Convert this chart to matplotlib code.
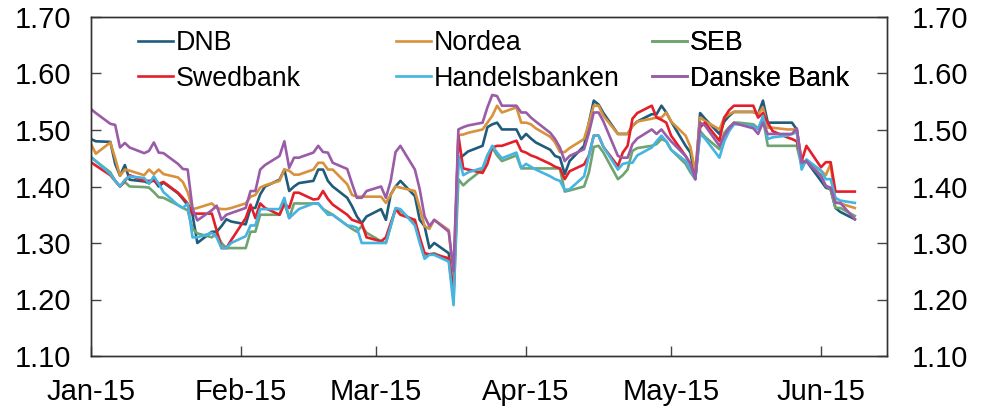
import numpy as np
import pandas as pd
import matplotlib
matplotlib.use('Agg')
import matplotlib.pyplot as plt
import matplotlib.dates as mdates
from matplotlib.ticker import FormatStrFormatter

plt.rcParams['font.family'] = ['Liberation Sans', 'DejaVu Sans']

# business days 1 Jan - 8 Jun 2015
dates = pd.bdate_range('2015-01-01', '2015-06-08')

dnb = (
    [1.484, 1.480, 1.479, 1.440, 1.419, 1.438, 1.412, 1.409, 1.406, 1.412, 1.400,
     1.407, 1.388, 1.378, 1.367, 1.350, 1.300, 1.320, 1.320, 1.330, 1.342, 1.338]
    + [1.333, 1.362, 1.362, 1.386, 1.400, 1.412, 1.430, 1.392, 1.400, 1.406,
       1.410, 1.430, 1.430, 1.410, 1.400, 1.380, 1.365, 1.347, 1.335, 1.347]
    + [1.360, 1.341, 1.386, 1.400, 1.410, 1.383, 1.341, 1.330, 1.291, 1.300, 1.282,
       1.220, 1.448, 1.455, 1.462, 1.472, 1.505, 1.510, 1.513, 1.501, 1.501, 1.484]
    + [1.493, 1.485, 1.478, 1.465, 1.454, 1.451, 1.422, 1.445, 1.472, 1.513, 1.552,
       1.545, 1.530, 1.493, 1.493, 1.493, 1.507, 1.515, 1.528, 1.528, 1.543, 1.531]
    + [1.515, 1.472, 1.460, 1.413, 1.530, 1.520, 1.493, 1.515, 1.525, 1.532, 1.532,
       1.532, 1.528, 1.552, 1.513, 1.513, 1.513, 1.513, 1.501, 1.440, 1.445]
    + [1.410, 1.398, 1.395, 1.362, 1.355, 1.342]
)

nordea = (
    [1.475, 1.458, 1.478, 1.450, 1.419, 1.430, 1.428, 1.420, 1.430, 1.422, 1.430,
     1.422, 1.416, 1.408, 1.390, 1.360, 1.362, 1.370, 1.362, 1.360, 1.360, 1.362]
    + [1.370, 1.382, 1.385, 1.398, 1.402, 1.410, 1.430, 1.428, 1.421, 1.421,
       1.430, 1.442, 1.442, 1.430, 1.430, 1.404, 1.385, 1.382, 1.382, 1.382]
    + [1.382, 1.371, 1.385, 1.400, 1.398, 1.392, 1.362, 1.330, 1.325, 1.341, 1.323,
       1.240, 1.491, 1.492, 1.495, 1.501, 1.513, 1.525, 1.543, 1.531, 1.540, 1.513]
    + [1.513, 1.510, 1.503, 1.488, 1.478, 1.461, 1.461, 1.468, 1.484, 1.513, 1.543,
       1.543, 1.525, 1.493, 1.493, 1.493, 1.507, 1.515, 1.520, 1.522, 1.522, 1.531]
    + [1.515, 1.490, 1.470, 1.425, 1.522, 1.516, 1.501, 1.522, 1.528, 1.532, 1.532,
       1.532, 1.528, 1.540, 1.504, 1.504, 1.501, 1.501, 1.501, 1.445, 1.445]
    + [1.428, 1.420, 1.440, 1.372, 1.370, 1.362]
)

seb = (
    [1.452, 1.445, 1.425, 1.410, 1.400, 1.408, 1.400, 1.399, 1.398, 1.390, 1.381,
     1.380, 1.367, 1.362, 1.358, 1.325, 1.317, 1.310, 1.317, 1.300, 1.291, 1.291]
    + [1.291, 1.320, 1.320, 1.350, 1.350, 1.350, 1.370, 1.344, 1.370, 1.370,
       1.370, 1.370, 1.360, 1.355, 1.350, 1.331, 1.325, 1.320, 1.330, 1.318]
    + [1.303, 1.300, 1.330, 1.360, 1.357, 1.336, 1.305, 1.276, 1.280, 1.282, 1.270,
       1.200, 1.413, 1.402, 1.410, 1.430, 1.455, 1.469, 1.455, 1.445, 1.455, 1.432]
    + [1.432, 1.432, 1.432, 1.432, 1.432, 1.432, 1.391, 1.393, 1.400, 1.425, 1.470,
       1.472, 1.460, 1.413, 1.420, 1.430, 1.463, 1.468, 1.472, 1.475, 1.484, 1.480]
    + [1.465, 1.440, 1.425, 1.413, 1.498, 1.488, 1.466, 1.495, 1.505, 1.513, 1.513,
       1.510, 1.503, 1.520, 1.472, 1.472, 1.472, 1.472, 1.472, 1.436, 1.445]
    + [1.420, 1.401, 1.395, 1.362, 1.362, 1.348]
)

swedbank = (
    [1.443, 1.437, 1.420, 1.410, 1.400, 1.410, 1.420, 1.410, 1.410, 1.410, 1.405,
     1.408, 1.389, 1.380, 1.370, 1.352, 1.352, 1.352, 1.322, 1.291, 1.291, 1.305]
    + [1.344, 1.368, 1.344, 1.370, 1.362, 1.350, 1.370, 1.362, 1.389, 1.389,
       1.377, 1.378, 1.392, 1.378, 1.368, 1.350, 1.341, 1.338, 1.335, 1.310]
    + [1.303, 1.310, 1.335, 1.360, 1.350, 1.341, 1.310, 1.282, 1.280, 1.280, 1.273,
       1.210, 1.490, 1.432, 1.430, 1.424, 1.440, 1.469, 1.472, 1.472, 1.481, 1.463]
    + [1.460, 1.455, 1.452, 1.440, 1.435, 1.432, 1.413, 1.427, 1.439, 1.455, 1.490,
       1.490, 1.470, 1.436, 1.460, 1.472, 1.520, 1.530, 1.543, 1.522, 1.518, 1.513]
    + [1.490, 1.454, 1.440, 1.416, 1.505, 1.513, 1.481, 1.522, 1.535, 1.543, 1.543,
       1.543, 1.522, 1.530, 1.513, 1.498, 1.487, 1.484, 1.480, 1.445, 1.472]
    + [1.434, 1.443, 1.443, 1.391, 1.391, 1.391]
)

handelsbanken = (
    [1.452, 1.445, 1.422, 1.410, 1.400, 1.412, 1.418, 1.415, 1.405, 1.418, 1.405,
     1.390, 1.367, 1.362, 1.370, 1.310, 1.310, 1.318, 1.310, 1.291, 1.291, 1.300]
    + [1.312, 1.331, 1.331, 1.360, 1.360, 1.360, 1.380, 1.344, 1.352, 1.360,
       1.370, 1.370, 1.360, 1.350, 1.350, 1.331, 1.330, 1.327, 1.300, 1.300]
    + [1.300, 1.300, 1.330, 1.362, 1.360, 1.331, 1.300, 1.272, 1.279, 1.279, 1.267,
       1.190, 1.455, 1.420, 1.425, 1.433, 1.455, 1.472, 1.460, 1.450, 1.460, 1.433]
    + [1.440, 1.435, 1.430, 1.418, 1.413, 1.410, 1.394, 1.395, 1.418, 1.455, 1.490,
       1.490, 1.470, 1.430, 1.440, 1.442, 1.442, 1.455, 1.469, 1.480, 1.490, 1.480]
    + [1.465, 1.445, 1.430, 1.413, 1.493, 1.485, 1.451, 1.480, 1.498, 1.510, 1.510,
       1.507, 1.501, 1.525, 1.484, 1.487, 1.490, 1.493, 1.496, 1.430, 1.448]
    + [1.428, 1.413, 1.413, 1.380, 1.375, 1.371]
)

danske = (
    [1.537, 1.530, 1.511, 1.509, 1.469, 1.477, 1.469, 1.459, 1.463, 1.478, 1.460,
     1.459, 1.440, 1.431, 1.430, 1.361, 1.340, 1.358, 1.366, 1.341, 1.350, 1.353]
    + [1.362, 1.392, 1.392, 1.430, 1.438, 1.454, 1.480, 1.433, 1.451, 1.451,
       1.460, 1.472, 1.461, 1.460, 1.442, 1.431, 1.405, 1.380, 1.380, 1.392]
    + [1.400, 1.380, 1.410, 1.461, 1.472, 1.430, 1.395, 1.347, 1.330, 1.341, 1.320,
       1.250, 1.501, 1.505, 1.508, 1.513, 1.540, 1.562, 1.560, 1.543, 1.543, 1.531]
    + [1.531, 1.522, 1.515, 1.495, 1.484, 1.469, 1.445, 1.454, 1.466, 1.495, 1.531,
       1.531, 1.515, 1.454, 1.451, 1.451, 1.475, 1.485, 1.501, 1.493, 1.501, 1.490]
    + [1.480, 1.454, 1.440, 1.413, 1.513, 1.508, 1.472, 1.490, 1.503, 1.513, 1.510,
       1.503, 1.493, 1.513, 1.493, 1.493, 1.493, 1.493, 1.503, 1.442, 1.445]
    + [1.418, 1.401, 1.398, 1.371, 1.371, 1.342]
)

names = ['DNB', 'Nordea', 'SEB', 'Swedbank', 'Handelsbanken', 'Danske Bank']
series = [dnb, nordea, seb, swedbank, handelsbanken, danske]
colors = ['#1f5c7c', '#d8913c', '#6fa46f', '#e3202a', '#45b4e2', '#9a5ba8']

W, H = 981, 412
fig = plt.figure(figsize=(W / 100, H / 100), dpi=100)
ax = fig.add_axes([91 / W, 1 - 356 / H, (887 - 91) / W, (356 - 17) / H])

lines = []
for name, vals, c in zip(names, series, colors):
    ln, = ax.plot(dates, vals, color=c, lw=1.9, label=name)
    lines.append(ln)

start = pd.Timestamp('2015-01-01')
ax.set_xlim(start, start + pd.Timedelta(days=164.66))
ax.set_ylim(1.10, 1.70)
yt = [1.10, 1.20, 1.30, 1.40, 1.50, 1.60, 1.70]
ax.set_yticks(yt)
ax.yaxis.set_major_formatter(FormatStrFormatter('%.2f'))
ax.xaxis.set_major_locator(mdates.MonthLocator())
ax.xaxis.set_major_formatter(mdates.DateFormatter('%b-%y'))
ax.tick_params(axis='both', direction='in', length=7, width=1, labelsize=21,
               colors='#444444', labelcolor='black')
ax.tick_params(axis='y', pad=14)
ax.tick_params(axis='x', pad=16)

ax2 = ax.twinx()
ax2.set_ylim(1.10, 1.70)
ax2.set_yticks(yt)
ax2.yaxis.set_major_formatter(FormatStrFormatter('%.2f'))
ax2.tick_params(axis='y', direction='in', length=7, width=1, labelsize=21,
                pad=18, colors='#444444', labelcolor='black')

for a in (ax, ax2):
    for s in a.spines.values():
        s.set_color('#333333')
        s.set_linewidth(1)


def add_leg(handles, x, y):
    leg = ax.legend(handles=handles, loc='upper left',
                    bbox_to_anchor=(x / W, 1 - y / H),
                    bbox_transform=fig.transFigure, frameon=False,
                    fontsize=19.3, handlelength=1.3, handletextpad=0.1,
                    labelspacing=0.36, borderpad=0, borderaxespad=0)
    ax.add_artist(leg)


add_leg([lines[0], lines[3]], 138, 30)
add_leg([lines[1], lines[4]], 396, 30)
add_leg([lines[2], lines[5]], 652, 30)

fig.savefig('out.png', dpi=100)
